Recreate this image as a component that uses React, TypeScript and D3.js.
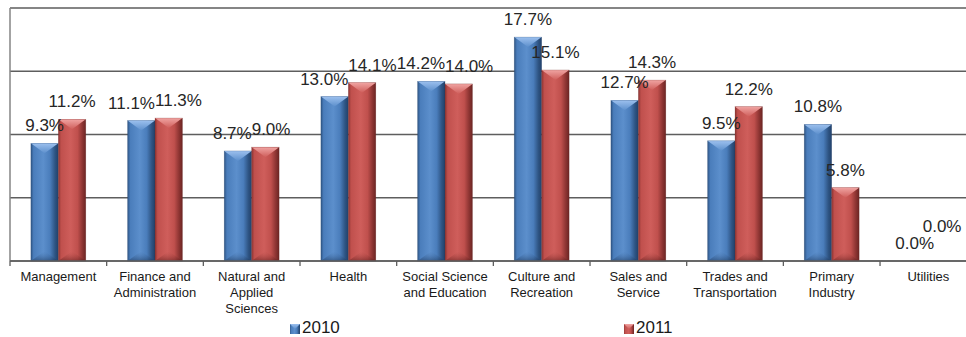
import React from "react";
import * as d3 from "d3";

const categories = [
  "Management",
  "Finance and Administration",
  "Natural and Applied Sciences",
  "Health",
  "Social Science and Education",
  "Culture and Recreation",
  "Sales and Service",
  "Trades and Transportation",
  "Primary Industry",
  "Utilities",
];
const seriesNames = ["2010", "2011"];
const values2010 = [9.3, 11.1, 8.7, 13.0, 14.2, 17.7, 12.7, 9.5, 10.8, 0.0];
const values2011 = [11.2, 11.3, 9.0, 14.1, 14.0, 15.1, 14.3, 12.2, 5.8, 0.0];
const yTicks = [0, 5, 10, 15, 20];

const W = 966;
const H = 337;
const FONT = "'Liberation Sans', Arial, sans-serif";
const LABEL_FS = 17;
const CAT_FS = 13;

const palettes = [
  { id: "b", dark: "#22416a", mid: "#4a7dbb", light: "#5c8fcc", edge: "#2e5483", top: "#9cc0ee", bottom: "#1d3659" },
  { id: "r", dark: "#6b2523", mid: "#c0504d", light: "#cf5e5b", edge: "#8c3432", top: "#f0a4a2", bottom: "#5a1c1b" },
];

let ctx: CanvasRenderingContext2D | null = null;
function measure(text: string, size: number) {
  if (!ctx) {
    const c = document.createElement("canvas");
    ctx = c.getContext("2d");
  }
  if (!ctx) return text.length * size * 0.55;
  ctx.font = `${size}px 'Liberation Sans', Arial, sans-serif`;
  return ctx.measureText(text).width;
}

function wrap(text: string, maxW: number, size: number) {
  const words = text.split(" ");
  const lines: string[] = [];
  let cur = "";
  for (const w of words) {
    const t = cur ? cur + " " + w : w;
    if (cur && measure(t, size) > maxW) {
      lines.push(cur);
      cur = w;
    } else cur = t;
  }
  if (cur) lines.push(cur);
  return lines;
}

export default function App() {
  const left = 10;
  const top = 8;
  const bottom = 261;
  const step = 96.67;
  const x0 = d3
    .scaleBand<string>()
    .domain(categories)
    .range([left, left + step * categories.length])
    .paddingInner(0)
    .paddingOuter(0);
  const x1 = d3
    .scaleBand<string>()
    .domain(seriesNames)
    .range([0, x0.bandwidth()])
    .paddingInner(0)
    .paddingOuter(0.76);
  const y = d3.scaleLinear().domain([0, 20]).range([bottom, top]);
  const bw = x1.bandwidth();
  const allSeries = [values2010, values2011];

  // data labels with simple collision avoidance
  type Lab = { text: string; x: number; y: number; w: number; s: number; c: number };
  const labels: Lab[][] = categories.map((cat, ci) =>
    allSeries.map((vals, si) => {
      const v = vals[ci];
      const text = v.toFixed(1) + "%";
      return {
        text,
        x: (x0(cat) as number) + (x1(seriesNames[si]) as number) + bw / 2,
        y: y(v) - 12,
        w: measure(text, LABEL_FS),
        s: si,
        c: ci,
      };
    })
  );
  const maxShift = 12;
  labels.forEach(([a, b]) => {
    const boxOverlapY = () => {
      const aT = a.y - 15, aB = a.y + 4, bT = b.y - 15, bB = b.y + 4;
      return Math.min(aB, bB) - Math.max(aT, bT);
    };
    const ox = () => a.x + a.w / 2 - (b.x - b.w / 2);
    if (boxOverlapY() > 0 && ox() > 0) {
      // identical heights: stack vertically (higher series raised)
      if (Math.abs(a.y - b.y) < 1) {
        b.y -= boxOverlapY() - 2;
        return;
      }
      const sh = Math.min(ox() / 2, maxShift);
      a.x -= sh;
      b.x += sh;
      if (ox() > 0.5 && boxOverlapY() > 0) {
        const oy = boxOverlapY();
        if (a.y < b.y) a.y -= oy;
        else b.y -= oy;
      }
    }
  });

  return (
    <svg
      width={W}
      height={H}
      style={{ position: "absolute", left: 0, top: 0, background: "#fff" }}
      fontFamily={FONT}
    >
      <defs>
        {palettes.map((p) => (
          <React.Fragment key={p.id}>
            <linearGradient id={`body-${p.id}`} x1="0" x2="1" y1="0" y2="0">
              <stop offset="0%" stopColor={p.edge} />
              <stop offset="10%" stopColor={p.mid} />
              <stop offset="45%" stopColor={p.light} />
              <stop offset="70%" stopColor={p.mid} />
              <stop offset="88%" stopColor={p.edge} />
              <stop offset="100%" stopColor={p.dark} />
            </linearGradient>
            <linearGradient id={`top-${p.id}`} x1="0" x2="0" y1="0" y2="1">
              <stop offset="0%" stopColor={p.top} />
              <stop offset="100%" stopColor={p.light} />
            </linearGradient>
            <linearGradient id={`bot-${p.id}`} x1="0" x2="0" y1="0" y2="1">
              <stop offset="0%" stopColor={p.mid} stopOpacity={0} />
              <stop offset="100%" stopColor={p.bottom} stopOpacity={0.55} />
            </linearGradient>
          </React.Fragment>
        ))}
      </defs>

      {/* gridlines */}
      {yTicks.map((t) => (
        <line
          key={t}
          x1={left}
          x2={W}
          y1={y(t)}
          y2={y(t)}
          stroke={t === 20 ? "#858585" : "#5e5e5e"}
          strokeWidth={t === 20 ? 2 : 1.3}
        />
      ))}
      {/* y axis line */}
      <line x1={left} x2={left} y1={top} y2={bottom} stroke="#858585" strokeWidth={1.5} />
      {/* x axis ticks */}
      {categories.map((cat) => (
        <line
          key={cat}
          x1={x0(cat) as number}
          x2={x0(cat) as number}
          y1={bottom}
          y2={bottom + 5}
          stroke="#5e5e5e"
          strokeWidth={1.3}
        />
      ))}

      {/* bars */}
      {categories.map((cat, ci) =>
        allSeries.map((vals, si) => {
          const v = vals[ci];
          if (v <= 0) return null;
          const p = palettes[si];
          const bx = (x0(cat) as number) + (x1(seriesNames[si]) as number);
          const by = y(v);
          const h = bottom - by;
          const bev = Math.min(10, h / 2);
          return (
            <g key={cat + si}>
              <rect x={bx} y={by} width={bw} height={h} fill={`url(#body-${p.id})`} />
              <polygon
                points={`${bx},${by} ${bx + bw},${by} ${bx + bw / 2},${by + bev}`}
                fill={`url(#top-${p.id})`}
              />
              <polygon
                points={`${bx},${bottom} ${bx + bw},${bottom} ${bx + bw / 2},${bottom - bev}`}
                fill={`url(#bot-${p.id})`}
              />
              <rect x={bx} y={by} width={bw} height={h} fill="none" stroke={p.dark} strokeOpacity={0.35} strokeWidth={0.6} />
            </g>
          );
        })
      )}

      {/* axis baseline */}
      <line x1={left} x2={W} y1={bottom} y2={bottom} stroke="#5e5e5e" strokeWidth={1.5} />

      {/* data labels */}
      {labels.flat().map((l) => (
        <text
          key={l.c + "-" + l.s}
          x={l.x}
          y={l.y}
          textAnchor="middle"
          fontSize={LABEL_FS}
          fill="#262626"
        >
          {l.text}
        </text>
      ))}

      {/* category labels */}
      {categories.map((cat) => {
        const lines = wrap(cat, 92, CAT_FS);
        const cx = (x0(cat) as number) + x0.bandwidth() / 2;
        return (
          <text key={cat} x={cx} y={281} textAnchor="middle" fontSize={CAT_FS} fill="#1a1a1a">
            {lines.map((ln, i) => (
              <tspan key={i} x={cx} dy={i === 0 ? 0 : 16}>
                {ln}
              </tspan>
            ))}
          </text>
        );
      })}

      {/* legend */}
      {seriesNames.map((s, si) => {
        const lx = si === 0 ? 290 : 624;
        const p = palettes[si];
        return (
          <g key={s}>
            <rect x={lx} y={324} width={10} height={10} fill={`url(#body-${p.id})`} />
            <polygon points={`${lx},324 ${lx + 10},324 ${lx + 5},329`} fill={`url(#top-${p.id})`} />
            <text x={lx + 12} y={333} fontSize={17} fill="#1a1a1a">
              {s}
            </text>
          </g>
        );
      })}
    </svg>
  );
}
